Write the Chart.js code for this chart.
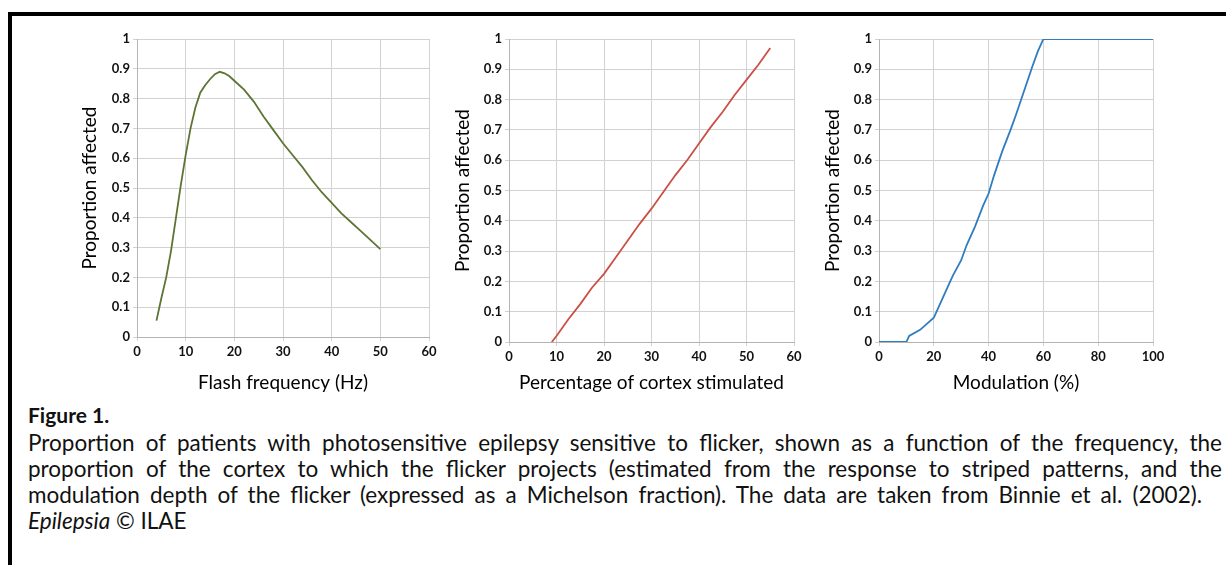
<!DOCTYPE html>
<html>
<head>
<meta charset="utf-8">
<script src="https://cdn.jsdelivr.net/npm/chart.js@4/dist/chart.umd.min.js"></script>
<style>
  html, body { margin:0; padding:0; background:#fff; width:1226px; height:565px; overflow:hidden; }
  #frame { position:absolute; left:8px; top:12px; width:1300px; height:700px; border-top:4px solid #000; border-left:4px solid #000; }
  .cw { position:absolute; top:20px; height:380px; }
  .cw canvas { display:block; }
  #caption { position:absolute; left:28px; top:400px; width:1194px; font-family:Lato, "Open Sans", sans-serif; font-size:22.5px; color:#111; }
  #caption .ln { height:26px; line-height:26px; white-space:nowrap; }
  #caption .fig { font-weight:bold; font-size:21px; height:30px; line-height:30px; }
</style>
</head>
<body>
<div id="frame"></div>
<div class="cw" id="w1" style="left:40px;width:410px"><canvas id="c1" width="410" height="380"></canvas></div>
<div class="cw" id="w2" style="left:445px;width:370px"><canvas id="c2" width="370" height="380"></canvas></div>
<div class="cw" id="w3" style="left:815px;width:370px"><canvas id="c3" width="370" height="380"></canvas></div>
<div id="caption">
  <div class="ln fig">Figure 1.</div>
  <div class="ln fit" data-w="1194">Proportion of patients with photosensitive epilepsy sensitive to flicker, shown as a function of the frequency, the</div>
  <div class="ln fit" data-w="1194">proportion of the cortex to which the flicker projects (estimated from the response to striped patterns, and the</div>
  <div class="ln fit" data-w="1174">modulation depth of the flicker (expressed as a Michelson fraction). The data are taken from Binnie et al. (2002).</div>
  <div class="ln"><i>Epilepsia</i> © ILAE</div>
</div>
<script>
// ---- data ----
const freqX = [4, 5, 6, 7, 8, 9, 10, 11, 12, 13, 14, 15, 16, 17, 18, 19, 20, 22, 24, 26, 28, 30, 32, 34, 36, 38, 40, 42, 44, 46, 48, 50];
const freqY = [0.055, 0.13, 0.20, 0.29, 0.40, 0.51, 0.61, 0.70, 0.77, 0.82, 0.845, 0.865, 0.882, 0.89, 0.885, 0.875, 0.86, 0.83, 0.79, 0.74, 0.695, 0.65, 0.61, 0.57, 0.525, 0.485, 0.45, 0.415, 0.385, 0.355, 0.325, 0.295];

const cortexX = [9, 10, 12.5, 15, 17.5, 20, 22.5, 25, 27.5, 30, 32.5, 35, 37.5, 40, 42.5, 45, 47.5, 50, 52.5, 55];
const cortexY = [0.0, 0.02, 0.075, 0.125, 0.18, 0.225, 0.28, 0.335, 0.39, 0.44, 0.495, 0.55, 0.60, 0.655, 0.71, 0.76, 0.815, 0.865, 0.915, 0.97];

const modX = [0, 10, 11, 15, 20, 22, 25, 27, 30, 32, 35, 38, 40, 42, 45, 48, 50, 53, 56, 58, 60, 100];
const modY = [0, 0, 0.02, 0.04, 0.08, 0.12, 0.18, 0.22, 0.27, 0.32, 0.38, 0.45, 0.49, 0.55, 0.63, 0.70, 0.75, 0.83, 0.91, 0.96, 1.0, 1.0];

const yTicks = [0, 0.1, 0.2, 0.3, 0.4, 0.5, 0.6, 0.7, 0.8, 0.9, 1];
const xTicks1 = [0, 10, 20, 30, 40, 50, 60];
const xTicks2 = [0, 10, 20, 30, 40, 50, 60];
const xTicks3 = [0, 20, 40, 60, 80, 100];

const xTitles = ['Flash frequency (Hz)', 'Percentage of cortex stimulated', 'Modulation (%)'];
const yTitle = 'Proportion affected';
const colors = ['#5d7434', '#cc4f47', '#2f7cc0'];

// ---- caption fitting ----
document.querySelectorAll('#caption .fit').forEach(el => {
  const target = +el.dataset.w;
  const span = document.createElement('span');
  span.textContent = el.textContent;
  el.textContent = '';
  el.appendChild(span);
  const nat = span.getBoundingClientRect().width;
  const spaces = (span.textContent.match(/ /g) || []).length;
  if (spaces) span.style.wordSpacing = ((target - nat) / spaces) + 'px';
});

// ---- chart builder ----
const FONT = 'Lato, "Open Sans", sans-serif';
function build(id, xs, ys, xTicks, xTitle, color, box) {
  const pts = xs.map((x, i) => ({x: x, y: ys[i]}));
  new Chart(document.getElementById(id), {
    type: 'line',
    data: { datasets: [{ data: pts, borderColor: color, borderWidth: 1.8, pointRadius: 0, tension: 0, fill: false }] },
    options: {
      responsive: false, animation: false,
      layout: { padding: { left: 0, top: box.top, right: box.right, bottom: 0 } },
      plugins: { legend: { display: false }, tooltip: { enabled: false } },
      scales: {
        x: {
          type: 'linear', min: xTicks[0], max: xTicks[xTicks.length - 1],
          afterFit: s => { s.height = box.bottom; },
          afterBuildTicks: s => { s.ticks = xTicks.map(v => ({value: v})); },
          ticks: { color: '#111', padding: 3, maxRotation: 0, autoSkip: false,
                   font: { family: FONT, size: 13, weight: 'bold' } },
          grid: { color: '#d2d2d2', lineWidth: 1, tickLength: 4 },
          border: { color: '#b4b4b4', width: 1 },
          title: { display: true, text: xTitle, color: '#000', padding: { top: 0, bottom: box.xtp },
                   font: { family: FONT, size: 19 } }
        },
        y: {
          type: 'linear', min: 0, max: 1,
          afterFit: s => { s.width = box.left; },
          afterBuildTicks: s => { s.ticks = yTicks.map(v => ({value: v})); },
          ticks: { color: '#111', padding: 3, autoSkip: false,
                   callback: v => (Math.round(v * 10) / 10).toString(),
                   font: { family: FONT, size: 13, weight: 'bold' } },
          grid: { color: '#d2d2d2', lineWidth: 1, tickLength: 4 },
          border: { color: '#b4b4b4', width: 1 },
          title: { display: true, text: yTitle, color: '#000', padding: { top: box.ytp, bottom: 0 },
                   font: { family: FONT, size: 19 } }
        }
      }
    }
  });
}

build('c1', freqX, freqY, xTicks1, xTitles[0], colors[0], { left: 97, top: 19, right: 21, bottom: 63, ytp: 38.6, xtp: 5.6 });
build('c2', cortexX, cortexY, xTicks2, xTitles[1], colors[1], { left: 64, top: 19, right: 21, bottom: 58, ytp: 6.6, xtp: 5.6 });
build('c3', modX, modY, xTicks3, xTitles[2], colors[2], { left: 64, top: 19, right: 32, bottom: 58, ytp: 6.6, xtp: 5.6 });
</script>
</body>
</html>
